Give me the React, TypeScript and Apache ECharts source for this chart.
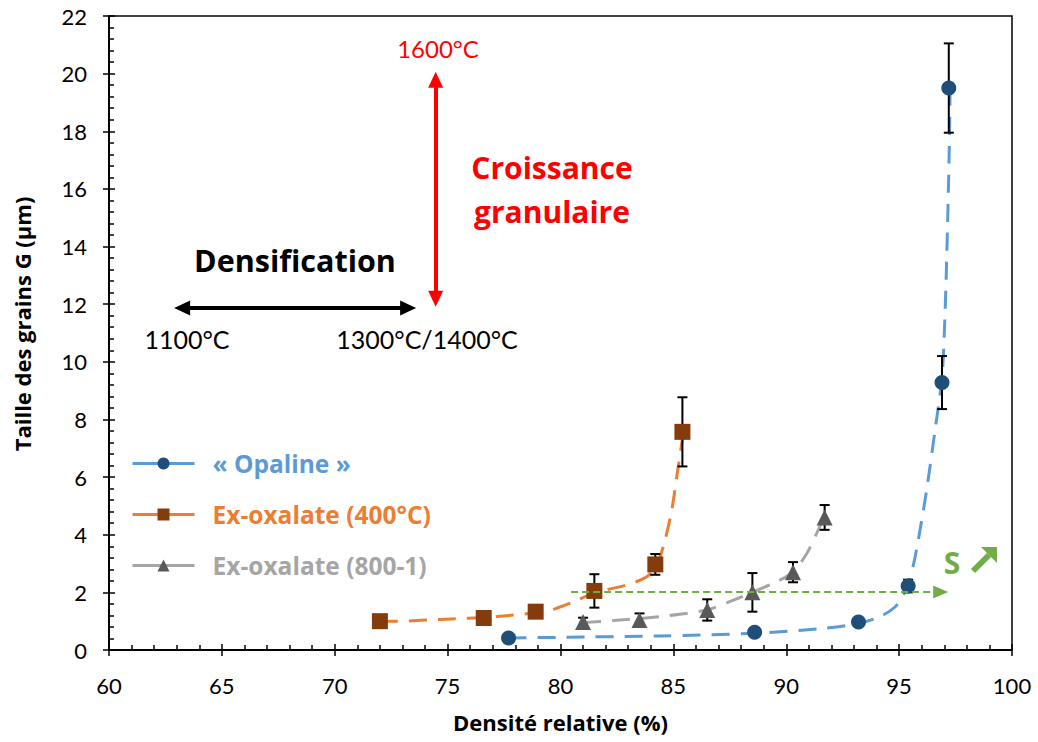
import React, { useEffect, useRef } from "react";
import * as echarts from "echarts";

// ---- Data ----
const opalineX = [77.7, 88.6, 93.2, 95.4, 96.9, 97.2];
const opalineY = [0.42, 0.62, 0.97, 2.22, 9.28, 19.5];
const opalineErr = [0, 0, 0, 0.22, 0.92, 1.55];

const ex400X = [72.0, 76.6, 78.9, 81.5, 84.2, 85.4];
const ex400Y = [1.0, 1.11, 1.33, 2.05, 2.97, 7.57];
const ex400Err = [0, 0, 0, 0.58, 0.36, 1.2];

const ex800X = [81.0, 83.5, 86.5, 88.5, 90.3, 91.7];
const ex800Y = [0.97, 1.04, 1.39, 2.0, 2.7, 4.6];
const ex800Err = [0.15, 0.23, 0.37, 0.67, 0.35, 0.43];

// trend curves (dashed)
const opalineTrendX = [77.7, 80, 84.4, 88.6, 91.5, 93.2, 94.16, 94.83, 95.18, 95.4, 95.7, 96.0, 96.23, 96.6, 96.9, 97.04, 97.14, 97.22, 97.26];
const opalineTrendY = [0.42, 0.44, 0.49, 0.58, 0.74, 0.92, 1.16, 1.5, 1.91, 2.25, 3.2, 4.5, 5.61, 7.68, 9.48, 11.83, 14.6, 17.36, 19.5];

const ex400TrendX = [72.0, 72.75, 74.67, 77.18, 79.4, 80.0, 80.6, 81.53, 82.94, 83.82, 84.27, 84.63, 84.93, 85.15, 85.37, 85.48];
const ex400TrendY = [1.0, 1.0, 1.06, 1.16, 1.35, 1.5, 1.68, 1.99, 2.26, 2.54, 2.95, 3.82, 4.86, 6.01, 7.17, 7.63];

const ex800TrendX = [81.0, 82.35, 84.41, 86.48, 87.66, 88.55, 89.58, 90.32, 90.91, 91.35, 91.65];
const ex800TrendY = [0.95, 1.02, 1.16, 1.39, 1.73, 2.02, 2.37, 2.72, 3.35, 4.05, 4.57];

const seriesNames = ["« Opaline »", "Ex-oxalate (400°C)", "Ex-oxalate (800-1)"];

// annotation arrows (data coordinates)
const densificationArrow = { y: 11.87, x1: 63.24, x2: 73.25 };
const croissanceArrow = { x: 74.47, y1: 12.19, y2: 19.79 };
const sArrow = { y: 2.01, x1: 80.47, x2: 96.84 };

const xTicks = { min: 60, max: 100, interval: 5 };
const yTicks = { min: 0, max: 22, interval: 2 };

const FONT = "Lato, 'Noto Sans', sans-serif";
const BFONT = "'Open Sans', 'Noto Sans', sans-serif";
const BLUE = "#5B9BD5";
const BLUE_D = "#1F4E79";
const ORANGE = "#ED7D31";
const BROWN = "#843C0C";
const GRAY = "#A5A5A5";
const GRAY_D = "#595959";
const GREEN = "#70AD47";
const RED = "#FF0000";

const zip = (xs: number[], ys: number[]) => xs.map((x, i) => [x, ys[i]]);
const errData = (xs: number[], ys: number[], es: number[]) =>
  xs.map((x, i) => [x, ys[i] - es[i], ys[i] + es[i]]).filter((_, i) => es[i] > 0);

export default function App() {
  const ref = useRef<HTMLDivElement>(null);
  useEffect(() => {
    if (!ref.current) return;
    const chart = echarts.init(ref.current, undefined, { renderer: "svg" });

    const errorSeries = (data: number[][]) => ({
      type: "custom",
      z: 3,
      silent: true,
      data,
      encode: { x: 0, y: [1, 2] },
      renderItem: (params: any, api: any) => {
        const x = api.value(0);
        const lo = api.coord([x, api.value(1)]);
        const hi = api.coord([x, api.value(2)]);
        const hw = 5;
        const st = { stroke: "#000", lineWidth: 2 };
        return {
          type: "group",
          children: [
            { type: "line", shape: { x1: lo[0], y1: lo[1], x2: hi[0], y2: hi[1] }, style: st },
            { type: "line", shape: { x1: lo[0] - hw, y1: lo[1], x2: lo[0] + hw, y2: lo[1] }, style: st },
            { type: "line", shape: { x1: hi[0] - hw, y1: hi[1], x2: hi[0] + hw, y2: hi[1] }, style: st },
          ],
        };
      },
    });

    const trend = (xs: number[], ys: number[], color: string) => ({
      type: "line",
      data: zip(xs, ys),
      smooth: 0.3,
      showSymbol: false,
      symbol: "none",
      silent: true,
      z: 2,
      lineStyle: { color, width: 3, type: [18, 11] },
    });

    const points = (name: string, xs: number[], ys: number[], symbol: string, size: number, fill: string) => ({
      name,
      type: "line",
      data: zip(xs, ys),
      symbol,
      symbolSize: size,
      showSymbol: true,
      z: 4,
      itemStyle: { color: fill, opacity: 1 },
      lineStyle: { width: 0, opacity: 0 },
    });

    const arrowLine = (from: number[], to: number[], color: string, width: number, type: any, symbols: string[], size: number[]) => ({
      type: "line",
      data: [],
      silent: true,
      markLine: {
        silent: true,
        animation: false,
        symbol: symbols,
        symbolSize: size,
        label: { show: false },
        lineStyle: { color, width, type },
        emphasis: { disabled: true },
        data: [[{ coord: from }, { coord: to }]],
      },
    });

    const baseX = {
      type: "value",
      min: xTicks.min,
      max: xTicks.max,
      interval: xTicks.interval,
      splitLine: { show: false },
    };
    const baseY = {
      type: "value",
      min: yTicks.min,
      max: yTicks.max,
      interval: yTicks.interval,
      splitLine: { show: false },
    };

    chart.setOption({
      animation: false,
      backgroundColor: "#fff",
      grid: { left: 109, right: 26, top: 16, bottom: 92, show: true, borderColor: "#000", borderWidth: 1.5, backgroundColor: "transparent" },
      xAxis: [
        {
          ...baseX,
          axisLine: { show: true, lineStyle: { color: "#000", width: 2 } },
          axisTick: { show: true, inside: false, length: 6, lineStyle: { color: "#000", width: 1.5 } },
          axisLabel: { color: "#000", fontFamily: FONT, fontSize: 22, margin: 24 },
          name: "Densité relative (%)",
          nameLocation: "middle",
          nameGap: 61,
          nameTextStyle: { color: "#000", fontFamily: BFONT, fontSize: 22, fontWeight: "bold" },
        },
        {
          ...baseX,
          position: "bottom",
          axisLine: { show: false },
          axisTick: { show: true, inside: true, length: 6, lineStyle: { color: "#000", width: 1.5 } },
          minorTick: { show: true, splitNumber: 5, length: 5, lineStyle: { color: "#000", width: 1.5 } },
          axisLabel: { show: false },
        },
      ],
      yAxis: [
        {
          ...baseY,
          position: "left",
          axisLine: { show: true, lineStyle: { color: "#000", width: 2 } },
          axisTick: { show: true, inside: false, length: 6, lineStyle: { color: "#000", width: 1.5 } },
          axisLabel: { color: "#000", fontFamily: FONT, fontSize: 22, margin: 22 },
          name: "Taille des grains G (µm)",
          nameLocation: "middle",
          nameRotate: 90,
          nameGap: 76,
          nameTextStyle: { color: "#000", fontFamily: BFONT, fontSize: 22, fontWeight: "bold", padding: [0, 0, 0, 18] },
        },
        {
          ...baseY,
          position: "left",
          axisLine: { show: false },
          axisTick: { show: true, inside: true, length: 6, lineStyle: { color: "#000", width: 1.5 } },
          minorTick: { show: true, splitNumber: 5, length: 5, lineStyle: { color: "#000", width: 1.5 } },
          axisLabel: { show: false },
        },
      ],
      legend: {
        left: 131,
        top: 451,
        padding: 0,
        orient: "vertical",
        itemWidth: 62,
        itemHeight: 15,
        itemGap: 26,
        selectedMode: false,
        textStyle: { fontFamily: BFONT, fontSize: 24.5, fontWeight: "bold", lineHeight: 24, padding: [0, 0, 0, 13] },
        data: [
          { name: seriesNames[0], itemStyle: { color: BLUE_D }, lineStyle: { color: BLUE, width: 3, opacity: 1, type: "solid" }, textStyle: { color: BLUE } },
          { name: seriesNames[1], itemStyle: { color: BROWN }, lineStyle: { color: ORANGE, width: 3, opacity: 1, type: "solid" }, textStyle: { color: ORANGE } },
          { name: seriesNames[2], itemStyle: { color: GRAY_D }, lineStyle: { color: GRAY, width: 3, opacity: 1, type: "solid" }, textStyle: { color: GRAY } },
        ],
      },
      series: [
        trend(opalineTrendX, opalineTrendY, BLUE),
        trend(ex400TrendX, ex400TrendY, ORANGE),
        trend(ex800TrendX, ex800TrendY, GRAY),
        errorSeries(errData(opalineX, opalineY, opalineErr)),
        errorSeries(errData(ex400X, ex400Y, ex400Err)),
        errorSeries(errData(ex800X, ex800Y, ex800Err)),
        points(seriesNames[0], opalineX, opalineY, "circle", 15, BLUE_D),
        points(seriesNames[1], ex400X, ex400Y, "rect", 16, BROWN),
        points(seriesNames[2], ex800X, ex800Y, "triangle", 16, GRAY_D),
        arrowLine([densificationArrow.x1, densificationArrow.y], [densificationArrow.x2, densificationArrow.y], "#000", 4, "solid", ["triangle", "triangle"], [15, 16]),
        arrowLine([croissanceArrow.x, croissanceArrow.y1], [croissanceArrow.x, croissanceArrow.y2], RED, 4, "solid", ["triangle", "triangle"], [15, 16]),
        arrowLine([sArrow.x1, sArrow.y], [sArrow.x2, sArrow.y], GREEN, 2, [7, 4], ["none", "triangle"], [13, 15]),
      ],
      graphic: [
        { type: "text", x: 438, y: 48, style: { text: "1600°C", fill: RED, font: `24px ${FONT}`, align: "center", verticalAlign: "middle" } },
        { type: "text", x: 552, y: 167, style: { text: "Croissance", fill: RED, font: `bold 30px ${BFONT}`, align: "center", verticalAlign: "middle" } },
        { type: "text", x: 552, y: 211, style: { text: "granulaire", fill: RED, font: `bold 30px ${BFONT}`, align: "center", verticalAlign: "middle" } },
        { type: "text", x: 295, y: 260, style: { text: "Densification", fill: "#000", font: `bold 30.5px ${BFONT}`, align: "center", verticalAlign: "middle" } },
        { type: "text", x: 187, y: 339, style: { text: "1100°C", fill: "#000", font: `25px ${FONT}`, align: "center", verticalAlign: "middle" } },
        { type: "text", x: 427, y: 339, style: { text: "1300°C/1400°C", fill: "#000", font: `25px ${FONT}`, align: "center", verticalAlign: "middle" } },
        { type: "text", x: 952, y: 562, style: { text: "S", fill: GREEN, font: `bold 30px ${BFONT}`, align: "center", verticalAlign: "middle" } },
        { type: "line", shape: { x1: 973, y1: 571, x2: 989, y2: 555 }, style: { stroke: GREEN, lineWidth: 6 } },
        { type: "polygon", shape: { points: [[981, 547], [997, 547], [997, 563]] }, style: { fill: GREEN } },
      ],
    });
    return () => chart.dispose();
  }, []);
  return <div ref={ref} style={{ position: "absolute", left: 0, top: 0, width: 1038, height: 742 }} />;
}
